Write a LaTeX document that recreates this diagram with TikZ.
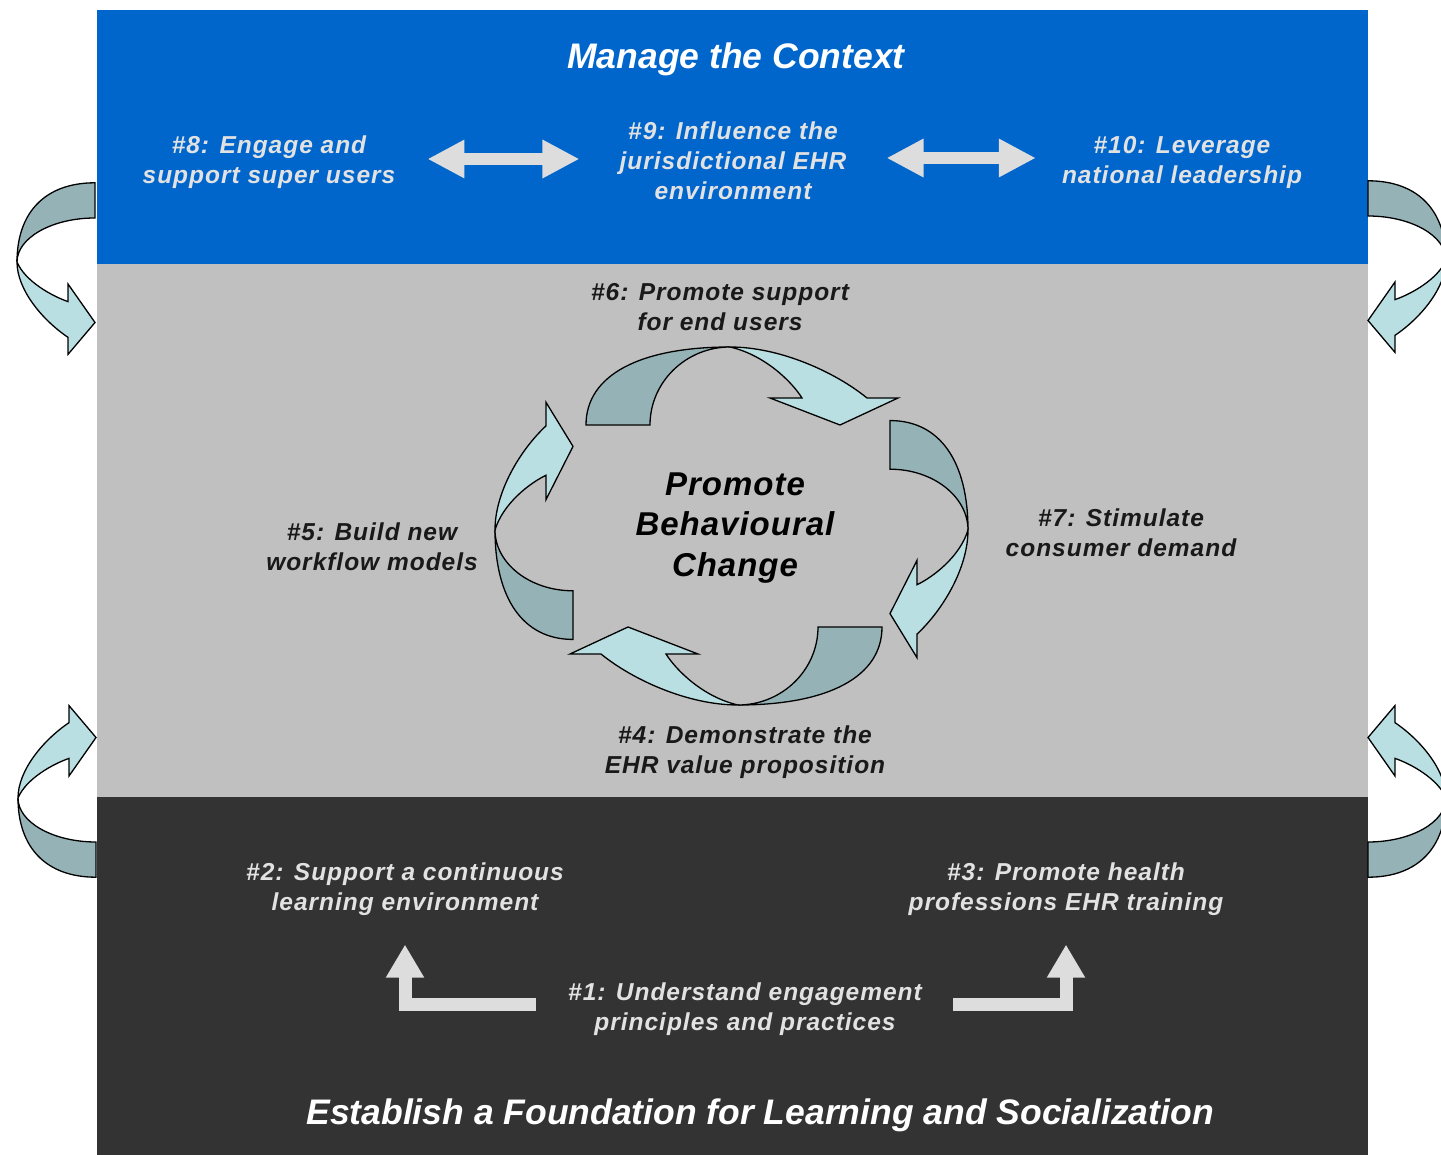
\documentclass[tikz,border=0pt]{standalone}
\usepackage{fontspec}
\setmainfont{Liberation Sans}
\newfontfamily\lblfont[LetterSpace=4]{Liberation Sans}
\newfontfamily\midfont[LetterSpace=3]{Liberation Sans}
\usetikzlibrary{arrows.meta}

\definecolor{ctxblue}{HTML}{0066CC}
\definecolor{midgrey}{HTML}{C0C0C0}
\definecolor{fndgrey}{HTML}{333333}
\definecolor{rbdk}{HTML}{95B3B7}
\definecolor{rblt}{HTML}{B9DFE3}
\definecolor{txtlt}{HTML}{E2E2E2}
\definecolor{arrgrey}{HTML}{DDDDDD}

\begin{document}
\begin{tikzpicture}[x=1pt, y=-1pt,
  lbl/.style={font=\lblfont\bfseries\itshape\fontsize{24.5}{30}\selectfont, text=txtlt, align=center, inner sep=0pt},
  lbldk/.style={lbl, text=black!90},
  mid/.style={font=\midfont\bfseries\itshape\fontsize{33}{40.5}\selectfont, text=black, align=center, inner sep=0pt},
  title/.style={font=\bfseries\itshape\fontsize{35.5}{40}\selectfont, text=white, inner sep=0pt},
  rbdark/.style={fill=rbdk, draw=black, line width=1.3pt},
  rblight/.style={fill=rblt, draw=black, line width=1.3pt},
  dbl/.style={draw=arrgrey, line width=12pt, {Triangle[length=37pt,width=36pt]}-{Triangle[length=37pt,width=36pt]}},
  elbow/.style={draw=arrgrey, line width=13pt, -{Triangle[length=33pt,width=36pt]}},
  cyc/.pic={
    \filldraw[rbdark] (-144,78) .. controls (-144,28) and (-90,0) .. (0,0) .. controls (-44,0) and (-80,35) .. (-80,78) -- cycle;
    \filldraw[rblight] (0,0) .. controls (50,0) and (105,25) .. (137,51) -- (168,51) -- (110,78) -- (40,51) -- (72,51) .. controls (62,35) and (35,8) .. (0,0) -- cycle;
  }]
\useasboundingbox (0,0) rectangle (1441,1155);
\fill[ctxblue] (97,10) rectangle (1368,264);
\fill[midgrey] (97,264) rectangle (1368,797);
\fill[fndgrey] (97,797) rectangle (1368,1155);

% manage the context
\node[title] (ctx) at (736,59) {Manage the Context};
\node[lbl] (n8) at (269,162) {\#8: Engage and\\support super users};
\node[lbl] (n9) at (733,161) {\#9: Influence the\\jurisdictional EHR\\environment};
\node[lbl] (n10) at (1182,162) {\#10: Leverage\\national leadership};
\draw[dbl, shorten <=32pt, shorten >=40pt] ([yshift=3pt]n8.east) -- ([yshift=3pt]n8.east -| n9.west);
\draw[dbl, shorten <=40pt, shorten >=26pt] ([yshift=3pt]n9.east) -- ([yshift=3pt]n9.east -| n10.west);

% behavioural change cycle
\node[mid] (pbc) at (735,528) {Promote\\Behavioural\\Change};
\node[lbldk] (n6) at (720,307) {\#6: Promote support\\for end users};
\node[lbldk] (n5) at (372,547) {\#5: Build new\\workflow models};
\node[lbldk] (n7) at (1121,533) {\#7: Stimulate\\consumer demand};
\node[lbldk] (n4) at (745,752) {\#4: Demonstrate the\\EHR value proposition};
\pic at (730,347) {cyc};
\pic[shift={(968,530)}, rotate=-90, xscale=.76] {cyc};
\pic[shift={(738,705)}, rotate=180] {cyc};
\pic[shift={(495,530)}, rotate=90, xscale=.76] {cyc};

% foundation
\node[lbl] (n2) at (405,889) {\#2: Support a continuous\\learning environment};
\node[lbl] (n3) at (1066,889) {\#3: Promote health\\professions EHR training};
\node[lbl] (n1) at (745,1009) {\#1: Understand engagement\\principles and practices};
\node[title] (fnd) at (760,1115) {Establish a Foundation for Learning and Socialization};
\draw[elbow, shorten <=32pt, shorten >=29pt] ([yshift=5pt]n1.west) -| (n2.south);
\draw[elbow, shorten <=31pt, shorten >=29pt] ([yshift=5pt]n1.east) -| (n3.south);

% side arrows between the bands
\pic[shift={(17,262)}, rotate=-90, yscale=-1, xscale=.55] {cyc};
\pic[shift={(1446,260)}, rotate=-90, xscale=.55] {cyc};
\pic[shift={(18,798)}, rotate=90, xscale=.55] {cyc};
\pic[shift={(1446,798)}, rotate=90, yscale=-1, xscale=.55] {cyc};
\end{tikzpicture}
\end{document}
